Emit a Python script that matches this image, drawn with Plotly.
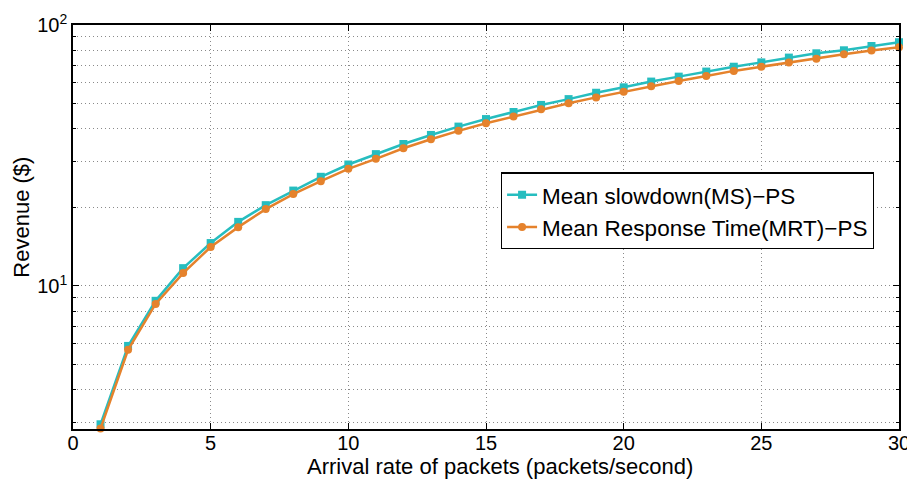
import plotly.graph_objects as go
import math

x = list(range(1, 31))
ms = [2.95, 5.89, 8.77, 11.7, 14.6, 17.6, 20.4, 23.2, 26.2, 29.2,
      32.0, 35.0, 37.9, 40.8, 43.6, 46.4, 49.4, 52.0, 55.0, 57.7,
      60.7, 63.4, 66.3, 69.2, 71.9, 75.0, 77.9, 80.0, 83.1, 85.9]
mrt = [2.84, 5.69, 8.53, 11.2, 14.1, 16.8, 19.7, 22.5, 25.2, 28.1,
       30.7, 33.7, 36.5, 39.3, 42.0, 44.6, 47.5, 50.1, 52.8, 55.5,
       58.2, 61.0, 63.8, 66.7, 69.2, 71.9, 74.3, 77.3, 79.8, 82.2]

x_ticks = [0, 5, 10, 15, 20, 25, 30]
y_major = [10, 100]
y_major_text = ["10<sup>1</sup>", "10<sup>2</sup>"]
y_minor = [3, 4, 5, 6, 7, 8, 9, 20, 30, 40, 50, 60, 70, 80, 90]

teal = "#26BDBF"
orange = "#E5822C"
font = "Liberation Sans, Arial, sans-serif"
grid = "#8a8a8a"
dash = "1px,3px"

fig = go.Figure()
fig.add_trace(go.Scatter(x=x, y=ms, mode="lines+markers", name="Mean slowdown(MS)\u2212PS",
                         line=dict(color=teal, width=2.5),
                         marker=dict(symbol="square", size=8, color=teal), cliponaxis=False))
fig.add_trace(go.Scatter(x=x, y=mrt, mode="lines+markers", name="Mean Response Time(MRT)\u2212PS",
                         line=dict(color=orange, width=2.5),
                         marker=dict(symbol="circle", size=8, color=orange), cliponaxis=False))

# page body has an 8px margin, so the figure is sized/offset to compensate
fig.update_layout(
    width=907, height=478,
    margin=dict(l=65, r=16, t=17, b=57),
    plot_bgcolor="white", paper_bgcolor="white",
    font=dict(family=font, size=20, color="black"),
    showlegend=True,
    legend=dict(x=0.518, y=0.635, xanchor="left", yanchor="top",
                bordercolor="black", borderwidth=1.2, bgcolor="white",
                font=dict(size=22.5), tracegroupgap=0, itemwidth=30),
    xaxis=dict(range=[0, 30], tickvals=x_ticks, ticks="inside", ticklen=6,
               tickcolor="black", showline=True, linecolor="black", linewidth=1.5,
               mirror="allticks", showgrid=True, gridcolor=grid, griddash=dash,
               gridwidth=1, zeroline=False, automargin=False,
               ticklabelstandoff=-5, tickfont=dict(size=20)),
    yaxis=dict(type="log", range=[math.log10(2.83), 2], tickvals=y_major, ticktext=y_major_text,
               ticks="inside", ticklen=6, tickcolor="black", showline=True,
               linecolor="black", linewidth=1.5, mirror="allticks",
               showgrid=True, gridcolor=grid, griddash=dash, gridwidth=1,
               zeroline=False, automargin=False,
               minor=dict(tickvals=y_minor, ticks="inside", ticklen=3, tickcolor="black",
                          showgrid=True, gridcolor=grid, griddash=dash, gridwidth=1),
               tickfont=dict(size=20)),
    annotations=[
        dict(text="Arrival rate of packets (packets/second)", xref="paper", yref="paper",
             x=0.517, y=-0.0916, xanchor="center", yanchor="middle", showarrow=False,
             font=dict(size=22)),
        dict(text="Revenue ($)", xref="paper", yref="paper", textangle=-90,
             x=-0.062, y=0.525, xanchor="center", yanchor="middle", showarrow=False,
             font=dict(size=22)),
    ],
)

fig.write_html("out.html")
